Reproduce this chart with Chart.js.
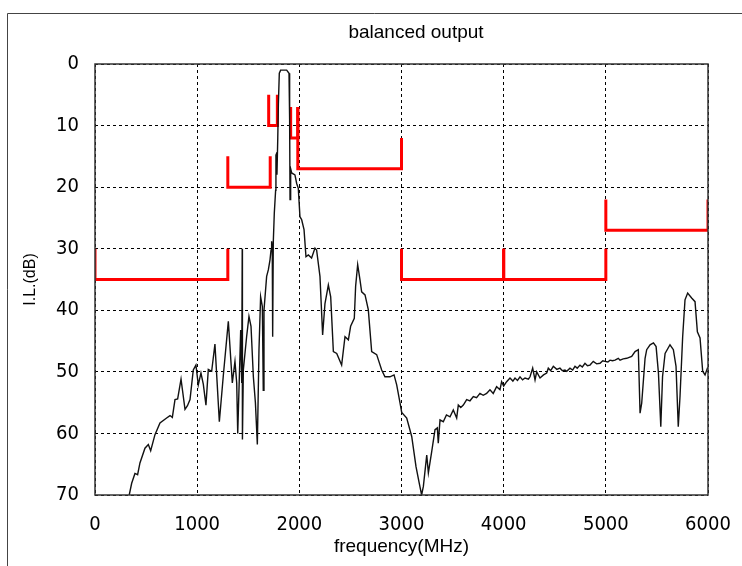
<!DOCTYPE html>
<html>
<head>
<meta charset="utf-8">
<script src="https://cdn.jsdelivr.net/npm/chart.js@4"></script>
<style>
	body { margin: 0; background: #fff; }
	#wrap { position: relative; width: 742px; height: 566px; overflow: hidden; }
</style>
</head>
<body>
<div id="wrap"><canvas id="ilChart" width="742" height="566"></canvas></div>
<script>
// measured I.L. curve (frequency in MHz, loss in dB)
const curveFreq = [335, 359, 391, 417, 440, 489, 522, 545, 587, 636, 701, 734, 757, 783, 809, 842, 881, 905, 930, 962, 988, 1011, 1037, 1060, 1086, 1109, 1142, 1174, 1217, 1256, 1305, 1344, 1370, 1387, 1397, 1426, 1436, 1441, 1443, 1452, 1484, 1507, 1527, 1550, 1570, 1589, 1605, 1621, 1638, 1647, 1654, 1680, 1697, 1713, 1723, 1729, 1735, 1739, 1745, 1755, 1768, 1771, 1778, 1781, 1789, 1795, 1804, 1817, 1876, 1899, 1905, 1909, 1915, 1925, 1957, 1974, 1990, 2006, 2023, 2046, 2065, 2088, 2120, 2153, 2169, 2202, 2228, 2251, 2284, 2307, 2333, 2366, 2414, 2447, 2480, 2502, 2538, 2551, 2571, 2594, 2610, 2643, 2675, 2708, 2757, 2806, 2838, 2887, 2927, 2953, 2985, 3002, 3051, 3100, 3142, 3174, 3197, 3214, 3247, 3263, 3296, 3328, 3351, 3360, 3377, 3409, 3440, 3475, 3507, 3540, 3556, 3580, 3605, 3638, 3670, 3703, 3735, 3768, 3800, 3833, 3866, 3898, 3931, 3964, 3980, 4000, 4029, 4062, 4090, 4111, 4135, 4160, 4185, 4209, 4242, 4258, 4284, 4307, 4323, 4356, 4390, 4421, 4437, 4460, 4486, 4520, 4551, 4575, 4600, 4617, 4649, 4675, 4698, 4720, 4747, 4770, 4796, 4820, 4845, 4877, 4910, 4943, 4970, 4992, 5020, 5041, 5065, 5090, 5122, 5139, 5170, 5204, 5253, 5286, 5318, 5335, 5351, 5384, 5400, 5433, 5466, 5492, 5515, 5538, 5555, 5580, 5628, 5661, 5687, 5709, 5726, 5752, 5775, 5801, 5840, 5873, 5896, 5922, 5948, 5971, 5994, 6000];
const curveLoss = [70, 68.1, 66.5, 66.7, 64.8, 62.4, 61.8, 62.8, 60.2, 58.3, 57.5, 57.1, 57.4, 54.5, 54.4, 51.2, 56.1, 55.5, 54.5, 49.7, 48.9, 52.1, 50.2, 52, 55.4, 49.6, 49.9, 45.5, 58.1, 50.6, 41.8, 51.8, 48.3, 51.8, 60, 43.2, 51.8, 30, 61, 49.7, 44.3, 41, 42.6, 50.8, 55, 61.8, 46.4, 37.8, 39.4, 53, 40, 34.5, 33.4, 31.8, 30.2, 28.8, 30, 44.3, 29, 24.2, 20.5, 14.8, 14.5, 18, 12, 6.4, 1.5, 1, 1, 1.5, 9, 22, 17, 17.7, 18, 19.4, 20.2, 24.8, 25.3, 26.9, 31.3, 31, 31.5, 29.9, 30.2, 34.5, 44, 38.9, 35.9, 37.8, 46.7, 47, 48.9, 44.3, 44.8, 42.6, 41.3, 36.1, 32.6, 35.1, 37, 37.5, 39.9, 46.7, 47.2, 49.7, 50.8, 50.8, 50.5, 52.1, 55, 56.6, 57.5, 60.5, 65.4, 68.1, 70, 68.6, 63.5, 66.4, 62.9, 59.4, 59.1, 61.6, 57.8, 58.1, 57, 57.3, 56.2, 57.5, 55.4, 55.8, 55.4, 54.5, 54.7, 54, 54.2, 53.5, 53.8, 53.5, 52.9, 53.5, 52.4, 52.9, 51.6, 52.3, 51.6, 51, 51.5, 51, 51.4, 50.8, 51.3, 51, 51.2, 50.8, 49.4, 51.3, 50, 51, 50.5, 50.2, 49.4, 49.8, 49.1, 49.6, 49.4, 49.8, 49.7, 49.9, 49.4, 49.7, 49.1, 49.4, 48.9, 49.2, 48.6, 49, 48.9, 48.3, 48.7, 48.6, 48.2, 48.3, 48.4, 48.1, 48.2, 48.1, 47.8, 48.1, 47.9, 47.8, 47.5, 46.7, 46.4, 56.7, 55.1, 47.8, 46.4, 45.6, 45.3, 45.9, 50.2, 58.9, 50.8, 47, 45.6, 46.4, 49.1, 58.9, 54, 44.3, 38.3, 37.2, 38, 38.6, 43.5, 44.5, 49.9, 50.5, 49.4, 49.5];

// spec limit masks (red)
const maskFreq1 = [0, 0, 1300, 1300];
const maskLoss1 = [30, 35, 35, 30];
const maskFreq2 = [1300, 1300, 1715, 1715];
const maskLoss2 = [15, 20, 20, 15];
const maskFreq3 = [1700, 1700, 1785, 1785];
const maskLoss3 = [5, 10, 10, 5];
const maskFreq4 = [1915, 1915, 1985, 1985];
const maskLoss4 = [7, 12, 12, 7];
const maskFreq5 = [1985, 1985, 3000, 3000];
const maskLoss5 = [7, 17, 17, 12];
const maskFreq6 = [3000, 3000, 4000, 4000];
const maskLoss6 = [30, 35, 35, 30];
const maskFreq7 = [4000, 4000, 5000, 5000];
const maskLoss7 = [30, 35, 35, 30];
const maskFreq8 = [5000, 5000, 6000, 6000];
const maskLoss8 = [22, 27, 27, 22];

const chartTitle = 'balanced output';
const xTitle = 'frequency(MHz)';
const yTitle = 'I.L.(dB)';

const FONT = "'Liberation Sans', Arial, sans-serif";
const NARROW = "'Liberation Sans Narrow', 'Arial Narrow', 'DejaVu Sans Condensed', sans-serif";

function toPoints(xs, ys) {
	return xs.map((x, i) => ({ x: x, y: ys[i] }));
}

function maskSet(xs, ys) {
	return {
		data: toPoints(xs, ys),
		borderColor: '#ff0000',
		borderWidth: 3,
		pointRadius: 0,
		showLine: true,
		tension: 0
	};
}

// frame, plot box and title
const framePlugin = {
	id: 'frame',
	beforeDraw(chart) {
		const ctx = chart.ctx;
		ctx.save();
		ctx.strokeStyle = '#444';
		ctx.lineWidth = 1;
		ctx.beginPath();
		ctx.moveTo(7.5, 566);
		ctx.lineTo(7.5, 13.5);
		ctx.lineTo(742, 13.5);
		ctx.stroke();
		ctx.fillStyle = '#000';
		ctx.font = '19px ' + FONT;
		ctx.textAlign = 'center';
		ctx.textBaseline = 'middle';
		ctx.fillText(chartTitle, 416, 33);
		ctx.restore();
	},
	afterDraw(chart) {
		const a = chart.chartArea;
		const ctx = chart.ctx;
		ctx.save();
		ctx.strokeStyle = '#333';
		ctx.lineWidth = 1.5;
		ctx.strokeRect(a.left, a.top, a.right - a.left, a.bottom - a.top);
		ctx.restore();
	}
};

const ctx = document.getElementById('ilChart').getContext('2d');

const chart = new Chart(ctx, {
	type: 'scatter',
	data: {
		datasets: [
			{
				data: toPoints(curveFreq, curveLoss),
				borderColor: '#111',
				borderWidth: 1.4,
				pointRadius: 0,
				showLine: true,
				tension: 0
			},
			maskSet(maskFreq1, maskLoss1),
			maskSet(maskFreq2, maskLoss2),
			maskSet(maskFreq3, maskLoss3),
			maskSet(maskFreq4, maskLoss4),
			maskSet(maskFreq5, maskLoss5),
			maskSet(maskFreq6, maskLoss6),
			maskSet(maskFreq7, maskLoss7),
			maskSet(maskFreq8, maskLoss8)
		]
	},
	options: {
		responsive: false,
		animation: false,
		layout: {
			padding: { top: 64, right: 34, left: 0, bottom: 0 }
		},
		plugins: {
			legend: { display: false },
			tooltip: { enabled: false },
			title: { display: false }
		},
		scales: {
			x: {
				type: 'linear',
				min: 0,
				max: 6000,
				ticks: {
					stepSize: 1000,
					color: '#000',
					padding: 18,
					font: { family: NARROW, size: 20 },
					callback: v => String(v)
				},
				grid: { color: '#000', lineWidth: 1, drawTicks: false },
				border: { display: false, dash: [3, 3] },
				title: {
					display: true,
					text: xTitle,
					color: '#000',
					font: { family: FONT, size: 19 },
					padding: { top: 0, bottom: 8 }
				},
				afterFit(scale) {
					scale.height = 71;
					scale.paddingLeft = 0;
					scale.paddingRight = 0;
				}
			},
			y: {
				type: 'linear',
				reverse: true,
				min: 0,
				max: 70,
				ticks: {
					stepSize: 10,
					color: '#000',
					padding: 16,
					font: { family: NARROW, size: 20 },
					callback: v => String(v)
				},
				grid: { color: '#000', lineWidth: 1, drawTicks: false },
				border: { display: false, dash: [3, 3] },
				title: {
					display: true,
					text: yTitle,
					color: '#000',
					font: { family: FONT, size: 16 },
					padding: { top: 21, bottom: 0 }
				},
				afterFit(scale) {
					scale.width = 95;
					scale.paddingTop = 0;
					scale.paddingBottom = 0;
				}
			}
		}
	},
	plugins: [framePlugin]
});
</script>
</body>
</html>
